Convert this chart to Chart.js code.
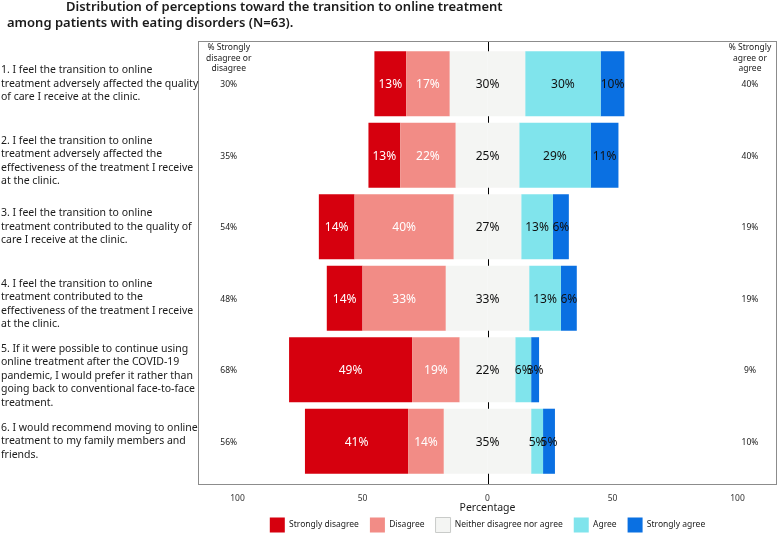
<!DOCTYPE html>
<html>
<head>
<meta charset="utf-8">
<script src="https://cdn.jsdelivr.net/npm/chart.js@4.4.1/dist/chart.umd.min.js"></script>
<style>
  html, body { margin: 0; padding: 0; background: #fff; }
  #wrap { width: 778px; height: 540px; }
</style>
</head>
<body>
<div id="wrap"><canvas id="likertChart" width="778" height="540"></canvas></div>
<script>
// ---- data (percent of N=63) ----
const items = [
  ["1. I feel the transition to online", "treatment adversely affected the quality", "of care I receive at the clinic."],
  ["2. I feel the transition to online", "treatment adversely affected the", "effectiveness of the treatment I receive", "at the clinic."],
  ["3. I feel the transition to online", "treatment contributed to the quality of", "care I receive at the clinic."],
  ["4. I feel the transition to online", "treatment contributed to the", "effectiveness of the treatment I receive", "at the clinic."],
  ["5. If it were possible to continue using", "online treatment after the COVID-19", "pandemic, I would prefer it rather than", "going back to conventional face-to-face", "treatment."],
  ["6. I would recommend moving to online", "treatment to my family members and", "friends."]
];
const strongDisagree = [12.70, 12.70, 14.29, 14.29, 49.21, 41.27];
const disagree       = [17.46, 22.22, 39.68, 33.33, 19.05, 14.29];
const neutral        = [30.16, 25.40, 26.98, 33.33, 22.22, 34.92];
const agree          = [30.16, 28.57, 12.70, 12.70, 6.35, 4.76];
const strongAgree    = [9.52, 11.11, 6.35, 6.35, 3.17, 4.76];
const disagreeTotals = ["30%", "35%", "54%", "48%", "68%", "56%"];
const agreeTotals    = ["40%", "40%", "19%", "19%", "9%", "10%"];
const xTicks = [-100, -50, 0, 50, 100];

const colors = {
  sd: "#D6000E",
  d: "#F28C86",
  n: "#F4F5F3",
  a: "#80E4EC",
  sa: "#0A70E2"
};

Chart.defaults.font.family = "'Noto Sans', sans-serif";
Chart.defaults.color = "#222";

/* ===============================
   datasets: neutral split in two halves around 0
================================*/
const datasets = [
  { label: "Neither disagree nor agree", data: neutral.map(v => -v / 2), backgroundColor: colors.n, textColor: "#111" },
  { label: "neutral-right", data: neutral.map(v => v / 2), backgroundColor: colors.n, noLabel: true },
  { label: "Disagree", data: disagree.map(v => -v), backgroundColor: colors.d, textColor: "#fff" },
  { label: "Agree", data: agree, backgroundColor: colors.a, textColor: "#111" },
  { label: "Strongly disagree", data: strongDisagree.map(v => -v), backgroundColor: colors.sd, textColor: "#fff" },
  { label: "Strongly agree", data: strongAgree, backgroundColor: colors.sa, textColor: "#111" }
];
datasets.forEach(ds => {
  ds.stack = "likert";
  ds.borderWidth = 0;
  ds.barPercentage = 0.91;
  ds.categoryPercentage = 1;
});
const legendOrder = [4, 2, 0, 3, 5];

// panel border + zero line (behind the bars)
const panelPlugin = {
  id: "panel",
  beforeDatasetsDraw(chart) {
    const { ctx, chartArea: a, scales: { x } } = chart;
    ctx.save();
    const x0 = Math.round(x.getPixelForValue(0)) + 0.5;
    ctx.strokeStyle = "#000";
    ctx.lineWidth = 1;
    ctx.beginPath();
    ctx.moveTo(x0, a.top - 7);
    ctx.lineTo(x0, a.bottom + 7);
    ctx.stroke();
    ctx.strokeStyle = "#8c8c8c";
    ctx.strokeRect(Math.round(a.left) + 0.5, Math.round(a.top - 7) + 0.5,
      Math.round(a.right - a.left) - 1, Math.round(a.bottom - a.top + 14));
    ctx.restore();
  }
};

// percent labels inside segments
const barLabels = {
  id: "barLabels",
  afterDatasetsDraw(chart) {
    const { ctx, scales: { x } } = chart;
    ctx.save();
    ctx.font = "12px 'Noto Sans', sans-serif";
    ctx.textAlign = "center";
    ctx.textBaseline = "middle";
    chart.data.datasets.forEach((ds, i) => {
      if (ds.noLabel) return;
      const meta = chart.getDatasetMeta(i);
      meta.data.forEach((el, j) => {
        const p = el.getProps(["x", "y", "base"], true);
        let cx = (p.x + p.base) / 2;
        let v = Math.abs(ds.data[j]);
        if (i === 0) { cx = x.getPixelForValue(0); v = neutral[j]; }
        ctx.fillStyle = ds.textColor;
        ctx.fillText(Math.round(v) + "%", cx, p.y + 1);
      });
    });
    ctx.restore();
  }
};

// title, statement labels, side totals
const textPlugin = {
  id: "texts",
  afterDraw(chart) {
    const { ctx, scales: { x, y } } = chart;
    ctx.save();
    ctx.fillStyle = "#1a1a1a";
    ctx.textBaseline = "middle";
    ctx.textAlign = "left";
    ctx.font = "600 13px 'Noto Sans', sans-serif";
    ctx.fillText("Distribution of perceptions toward the transition to online treatment", 66, 7);
    ctx.fillText("among patients with eating disorders (N=63).", 7, 23);

    ctx.font = "10.5px 'Noto Sans', sans-serif";
    items.forEach((lines, i) => {
      const cy = y.getPixelForValue(i) + (lines.length > 3 ? 6 : 0);
      lines.forEach((t, k) => {
        ctx.fillText(t, 1, cy + (k - (lines.length - 1) / 2) * 13.5);
      });
    });

    ctx.textAlign = "center";
    ctx.font = "8.5px 'Noto Sans', sans-serif";
    const lx = x.getPixelForValue(-103.5);
    const rx = x.getPixelForValue(105);
    ["% Strongly", "disagree or", "disagree"].forEach((t, k) => ctx.fillText(t, lx, 48 + k * 10.5));
    ["% Strongly", "agree or", "agree"].forEach((t, k) => ctx.fillText(t, rx, 48 + k * 10.5));
    items.forEach((_, i) => {
      const cy = y.getPixelForValue(i) + 1;
      ctx.fillText(disagreeTotals[i], lx, cy);
      ctx.fillText(agreeTotals[i], rx, cy);
    });
    ctx.restore();
  }
};

new Chart(document.getElementById("likertChart"), {
  type: "bar",
  data: { labels: items.map(l => l.join(" ")), datasets },
  options: {
    indexAxis: "y",
    responsive: false,
    animation: false,
    layout: { padding: { top: 48, left: 198, right: 1, bottom: -2.5 } },
    scales: {
      x: {
        stacked: true,
        min: -115.8,
        max: 115.8,
        afterBuildTicks(scale) { scale.ticks = xTicks.map(v => ({ value: v })); },
        afterFit(scale) { scale.height = 29.5; },
        ticks: {
          padding: 16,
          color: "#333",
          font: { size: 8.5 },
          callback: v => Math.abs(v)
        },
        grid: { display: false, drawTicks: false },
        border: { display: false },
        title: {
          display: true,
          text: "Percentage",
          color: "#1a1a1a",
          font: { size: 10.5 },
          padding: { top: 0, bottom: -7.8 }
        }
      },
      y: {
        stacked: true,
        display: false
      }
    },
    plugins: {
      legend: {
        position: "bottom",
        fullSize: false,
        labels: {
          boxWidth: 15,
          boxHeight: 15,
          padding: 11,
          color: "#1a1a1a",
          font: { size: 8.5 },
          filter: item => item.datasetIndex !== 1,
          sort: (a, b) => legendOrder.indexOf(a.datasetIndex) - legendOrder.indexOf(b.datasetIndex),
          generateLabels(chart) {
            const list = Chart.defaults.plugins.legend.labels.generateLabels(chart);
            list.forEach(it => {
              it.lineWidth = it.datasetIndex === 0 ? 1 : 0;
              it.strokeStyle = "#c9cbc9";
            });
            return list;
          }
        }
      },
      tooltip: { enabled: false }
    }
  },
  plugins: [panelPlugin, barLabels, textPlugin]
});
</script>
</body>
</html>
